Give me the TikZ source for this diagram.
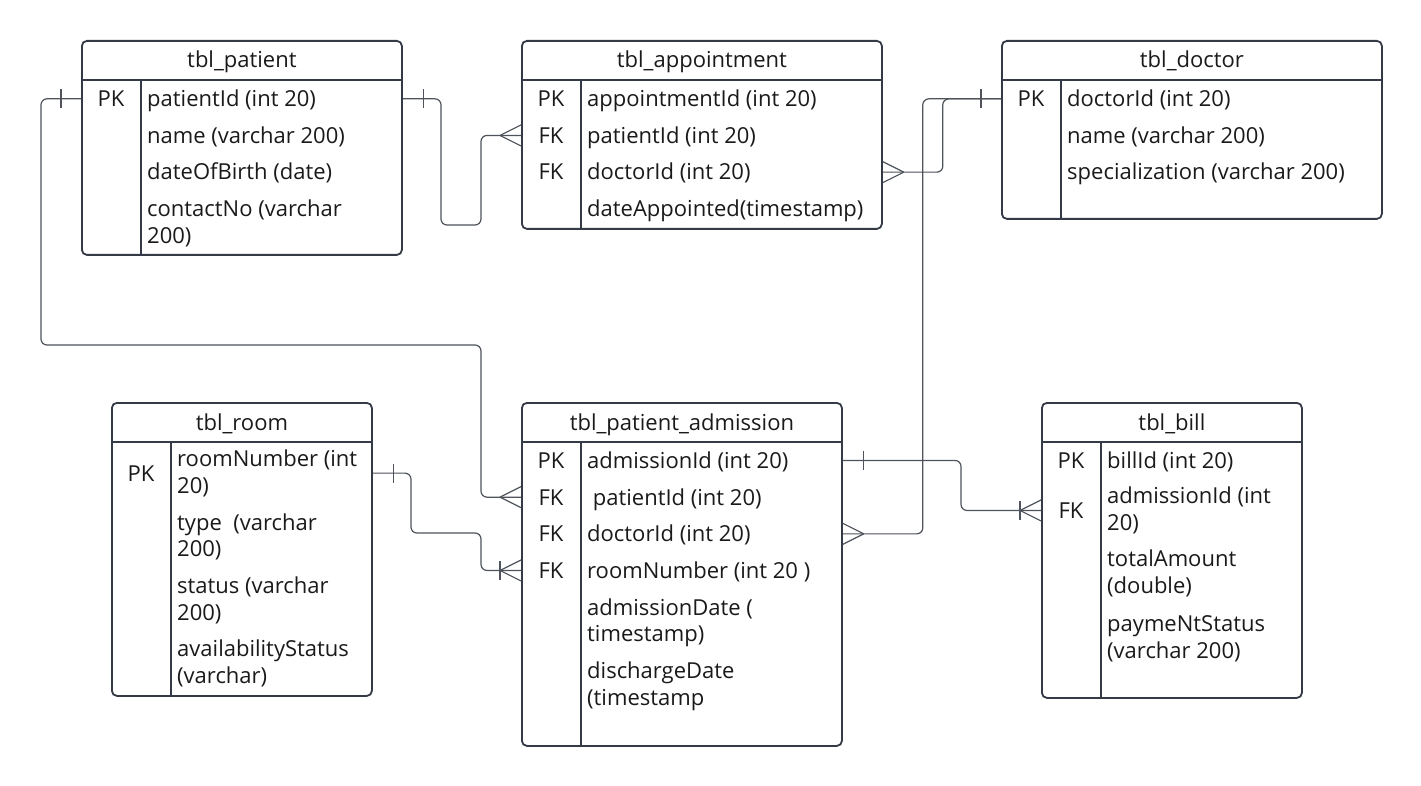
\documentclass[tikz,border=0pt]{standalone}
\usepackage{fontspec}
\setmainfont{Open Sans}
\usetikzlibrary{calc}
\definecolor{edge}{HTML}{343A46}
\definecolor{ink}{HTML}{1A1A1A}
\definecolor{wire}{HTML}{4E535C}
\tikzset{
  tbl/.style={draw=edge, line width=1.8pt, rounded corners=5pt, anchor=north west, inner sep=0pt, fill=white},
  rule/.style={draw=edge, line width=1.8pt},
  txt/.style={inner sep=0pt, text=ink, font=\fontsize{22}{26.7}\selectfont},
  hdr/.style={txt, anchor=base},
  keytxt/.style={txt, anchor=base},
  fld/.style={txt, anchor=base west},
  conn/.style={draw=wire, line width=1.2pt, rounded corners=6pt},
  foot/.style={draw=wire, line width=1.2pt},
}
% table frame: name, x, y, width, height, title
\newcommand\ertable[6]{%
  \node[tbl, minimum width=#4pt, minimum height=#5pt] (#1) at (#2,#3) {};
  \draw[rule] ($(#1.north west)+(0,40)$) -- ($(#1.north east)+(0,40)$);
  \draw[rule] ($(#1.north west)+(60,40)$) -- ($(#1.south west)+(60,0)$);
  \node[hdr] (#1-title) at ($(#1.north)+(0,28)$) {#6};
}
% crow's foot (many), line arriving from the left / from the right
\newcommand\manyL[1]{\draw[foot] ($(#1)+(-21,0)$) -- ($(#1)+(0,-10.5)$) ($(#1)+(-21,0)$) -- ($(#1)+(0,10.5)$);}
\newcommand\manyR[1]{\draw[foot] ($(#1)+(21,0)$) -- ($(#1)+(0,-10.5)$) ($(#1)+(21,0)$) -- ($(#1)+(0,10.5)$);}
% single bar at a given offset from the table edge
\newcommand\onebar[2]{\draw[foot] ($(#1)+(#2,-9.5)$) -- ($(#1)+(#2,9.5)$);}
\begin{document}
\begin{tikzpicture}[x=1pt, y=-1pt]
\useasboundingbox[fill=white] (0,0) rectangle (1421,786);

% ---------- tables ----------
\ertable{patient}{81}{40}{320}{214}{tbl\_patient}
\node[keytxt] (pat-pk) at (111,106.7) {PK};
\node[fld] (pat-f1) at (147,106.7) {patientId (int 20)};
\node[fld] (pat-f2) at (147,143.3) {name (varchar 200)};
\node[fld] (pat-f3) at (147,180) {dateOfBirth (date)};
\node[fld] (pat-f4) at (147,216.7) {contactNo (varchar};
\node[fld] (pat-f4b) at (147,243.3) {200)};

\ertable{appt}{521}{40}{360}{188}{tbl\_appointment}
\node[keytxt] (app-pk) at (551,106.7) {PK};
\node[keytxt] (app-fk1) at (551,143.3) {FK};
\node[keytxt] (app-fk2) at (551,180) {FK};
\node[fld] (app-f1) at (587,106.7) {appointmentId (int 20)};
\node[fld] (app-f2) at (587,143.3) {patientId (int 20)};
\node[fld] (app-f3) at (587,180) {doctorId (int 20)};
\node[fld] (app-f4) at (587,216.7) {dateAppointed(timestamp)};

\ertable{doctor}{1001}{40}{380}{178}{tbl\_doctor}
\node[keytxt] (doc-pk) at (1031,106.7) {PK};
\node[fld] (doc-f1) at (1067,106.7) {doctorId (int 20)};
\node[fld] (doc-f2) at (1067,143.3) {name (varchar 200)};
\node[fld] (doc-f3) at (1067,180) {specialization (varchar 200)};

\ertable{room}{111}{402}{260}{293}{tbl\_room}
\node[keytxt] (room-pk) at (141,481) {PK};
\node[fld] (room-f1) at (177,466.7) {roomNumber (int};
\node[fld] (room-f1b) at (177,493.3) {20)};
\node[fld] (room-f2) at (177,530) {type\ \ (varchar};
\node[fld] (room-f2b) at (177,556.7) {200)};
\node[fld] (room-f3) at (177,593.3) {status (varchar};
\node[fld] (room-f3b) at (177,620) {200)};
\node[fld] (room-f4) at (177,656.7) {availabilityStatus};
\node[fld] (room-f4b) at (177,683.3) {(varchar)};

\ertable{adm}{521}{402}{320}{343}{tbl\_patient\_admission}
\node[keytxt] (adm-pk) at (551,468.3) {PK};
\node[keytxt] (adm-fk1) at (551,505) {FK};
\node[keytxt] (adm-fk2) at (551,541.7) {FK};
\node[keytxt] (adm-fk3) at (551,578.3) {FK};
\node[fld] (adm-f1) at (587,468.3) {admissionId (int 20)};
\node[fld] (adm-f2) at (587,505) {\ patientId (int 20)};
\node[fld] (adm-f3) at (587,541.7) {doctorId (int 20)};
\node[fld] (adm-f4) at (587,578.3) {roomNumber (int 20 )};
\node[fld] (adm-f5) at (587,615) {admissionDate (};
\node[fld] (adm-f5b) at (587,641.7) {timestamp)};
\node[fld] (adm-f6) at (587,678.3) {dischargeDate};
\node[fld] (adm-f6b) at (587,705) {(timestamp};

\ertable{bill}{1041}{402}{260}{295}{tbl\_bill}
\node[keytxt] (bill-pk) at (1071,468.3) {PK};
\node[keytxt] (bill-fk) at (1071,518.3) {FK};
\node[fld] (bill-f1) at (1107,468.3) {billId (int 20)};
\node[fld] (bill-f2) at (1107,503.3) {admissionId (int};
\node[fld] (bill-f2b) at (1107,530) {20)};
\node[fld] (bill-f3) at (1107,566.7) {totalAmount};
\node[fld] (bill-f3b) at (1107,593.3) {(double)};
\node[fld] (bill-f4) at (1107,631.7) {paymeNtStatus};
\node[fld] (bill-f4b) at (1107,658.3) {(varchar 200)};

% ---------- connector end points on table edges ----------
\coordinate (patL)  at (patient.west |- pat-pk);
\coordinate (patR)  at (patient.east |- pat-pk);
\coordinate (appP)  at (appt.west |- app-fk1);
\coordinate (appD)  at (appt.east |- app-fk2);
\coordinate (docL)  at (doctor.west |- doc-pk);
\coordinate (roomR) at (room.east |- room-pk);
\coordinate (admK)  at (adm.east |- adm-pk);
\coordinate (admP)  at (adm.west |- adm-fk1);
\coordinate (admD)  at (adm.east |- adm-fk2);
\coordinate (admR)  at (adm.west |- adm-fk3);
\coordinate (billF) at (bill.west |- bill-fk);

% ---------- relationships ----------
% patient 1 -- n admission
\draw[conn] (patL) -| (41,345) -| ([xshift=-40pt]admP) -- (admP);
\onebar{patL}{-20}
\manyL{admP}
% patient 1 -- n appointment
\draw[conn] (patR) -| (441,225) -| ([xshift=-40pt]appP) -- (appP);
\onebar{patR}{21}
\manyL{appP}
% doctor 1 -- n appointment
\draw[conn] (docL) -| ([xshift=60pt]appD) -- (appD);
\manyR{appD}
% doctor 1 -- n admission
\draw[conn] (docL) -| ([xshift=80pt]admD) -- (admD);
\onebar{docL}{-20}
\manyR{admD}
% room 1 -- 1..n admission
\draw[conn] (roomR) -| (411,533) -| ([xshift=-40pt]admR) -- (admR);
\onebar{roomR}{21}
\manyL{admR}
\onebar{admR}{-21}
% admission 1 -- 1..n bill
\draw[conn] (admK) -| ([xshift=-80pt]billF) -- (billF);
\onebar{admK}{21}
\manyL{billF}
\onebar{billF}{-21}
\end{tikzpicture}
\end{document}
